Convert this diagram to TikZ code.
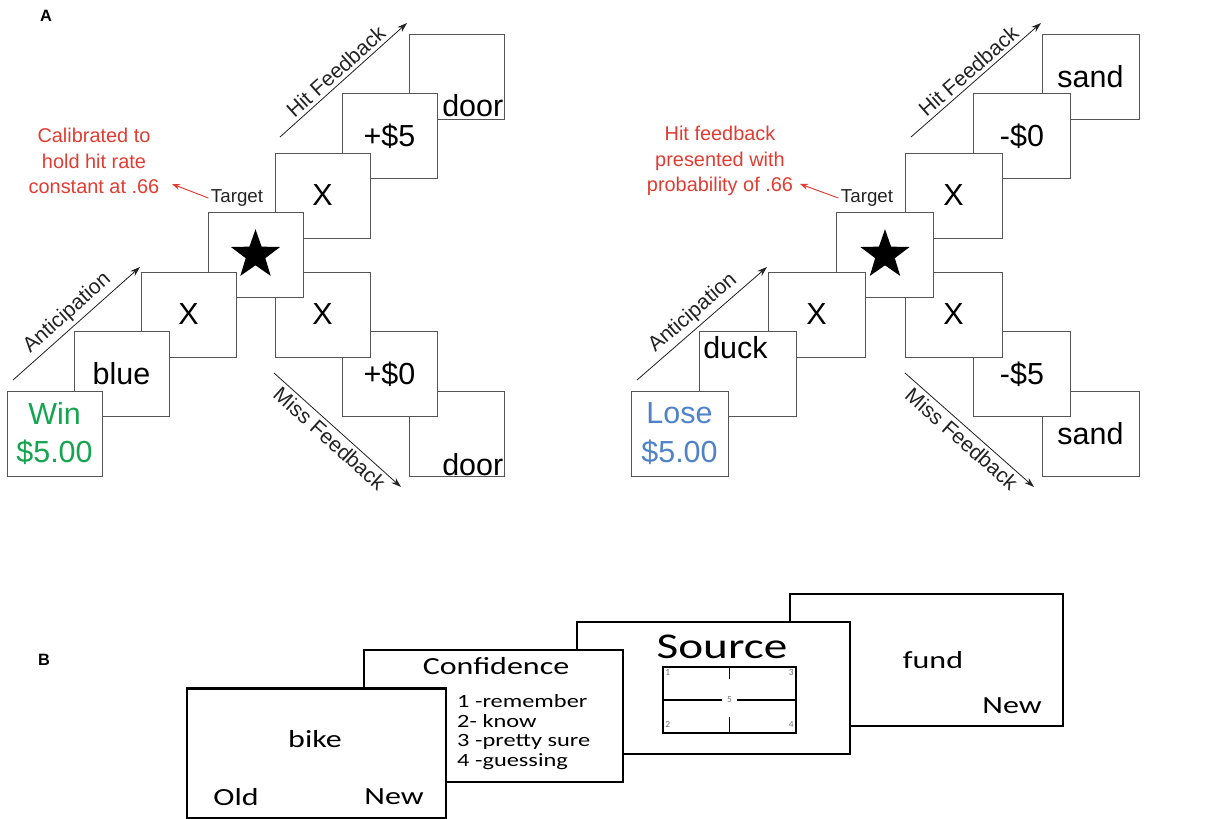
\documentclass[tikz,border=0pt]{standalone}
\usepackage{fontspec}
\setmainfont{Liberation Sans}
\newfontfamily\calib{Carlito}
\usepackage{graphicx}
\usetikzlibrary{arrows.meta,positioning,calc,shapes.geometric}
\definecolor{Ink}{RGB}{35,35,35}
\definecolor{BoxLine}{RGB}{85,85,85}
\definecolor{CueGreen}{RGB}{20,165,80}
\definecolor{CueBlue}{RGB}{80,130,200}
\definecolor{NoteRed}{RGB}{225,60,50}
\definecolor{GridGrey}{RGB}{115,115,115}
\newcommand{\wide}[1]{\scalebox{1.3}[1]{#1}}
\tikzset{
  slide/.style={draw=BoxLine, line width=0.8pt, fill=white, inner sep=0pt, text=black,
    minimum width=2.85cm, minimum height=2.55cm, align=center, font=\fontsize{26}{33}\selectfont},
  slideR/.style={slide, minimum width=2.91cm},
  corner/.style={inner sep=0pt, text=black, font=\fontsize{26}{30}\selectfont},
  tgtstar/.style={star, star points=5, star point ratio=2.5, fill=black, draw=none,
    minimum size=1.55cm, inner sep=0pt},
  phase/.style={font=\fontsize{18}{21}\selectfont, text=Ink, inner sep=3pt},
  tgtlab/.style={font=\fontsize{16}{19}\selectfont, text=Ink, inner sep=2pt},
  note/.style={align=center, font=\fontsize{17}{22}\selectfont, text=NoteRed, inner sep=0pt},
  flowarr/.style={-{Stealth[length=3mm,width=2mm]}, draw=Ink, line width=0.7pt},
  notearr/.style={-{Stealth[length=2.4mm,width=1.8mm]}, draw=NoteRed, line width=0.8pt},
  panlab/.style={font=\fontsize{14}{16}\selectfont\bfseries, inner sep=0pt},
  card/.style={draw=black, line width=1.8pt, fill=white, inner sep=0pt,
    minimum width=7.77cm, minimum height=3.96cm},
  cardW/.style={card, minimum width=8.19cm},
  bword/.style={font=\calib\fontsize{21}{25}\selectfont, inner sep=0pt},
  gridnum/.style={font=\calib\fontsize{8}{9}\selectfont, text=GridGrey, inner sep=1pt},
  gridline/.style={draw=black, line width=1.4pt},
}

\begin{document}
\begin{tikzpicture}[x=0.03cm, y=-0.03cm]
\useasboundingbox (0,0) rectangle (1225,819);

\node[panlab] (labA) at (46,16) {A};
\node[panlab] (labB) at (44,660) {B};

% ---------------- A, left: win trial (later slides drawn first) ----------------
\node[slide] (wordHitL) at (456.5,76.5) {};
\node[corner, anchor=base east] (doorHitL) at ($(wordHitL.south east)+(-1,-3)$) {door};
\node[slide] (fbHitL) at (389.5,136) {+\$5};
\node[slide] (fixHitL) at (322.5,195.5) {X};
\node[slide] (wordMissL) at (456.5,433.5) {};
\node[corner, anchor=base east] (doorMissL) at ($(wordMissL.south east)+(-1,-1)$) {door};
\node[slide] (fbMissL) at (389.5,374) {+\$0};
\node[slide] (fixMissL) at (322.5,314.5) {X};
\node[slide] (tgtL) at (255.5,255) {};
\node[tgtstar] (starL) at (tgtL.center) {};
\node[slide] (fixL) at (188.5,314.5) {X};
\node[slide] (wordL) at (121.5,374) {blue};
\node[slide, text=CueGreen] (cueL) at (54.5,433.5) {Win\\\$5.00};

% phase arrows
\coordinate (antSL) at (13,380);  \coordinate (antEL) at (140,267);
\coordinate (hitSL) at (280,137); \coordinate (hitEL) at (407,23);
\coordinate (misSL) at (274,373); \coordinate (misEL) at (401,487);
\draw[flowarr] (antSL) -- node[phase, sloped, above] (antLabL) {Anticipation} (antEL);
\draw[flowarr] (hitSL) -- node[phase, sloped, above] (hitLabL) {Hit Feedback} (hitEL);
\draw[flowarr] (misSL) -- node[phase, sloped, below] (misLabL) {Miss Feedback} (misEL);

% target label and calibration note
\node[tgtlab] (tgtLabL) at (237,198) {Target};
\node[note] (noteL) at (94,161) {Calibrated to\\hold hit rate\\constant at .66};
\coordinate (tipL) at (172,184);
\draw[notearr] (tgtLabL.west) -- (tipL);

% ---------------- A, right: lose trial ----------------
\node[slideR] (wordHitR) at (1090.5,76.5) {sand};
\node[slideR] (fbHitR) at (1022,136) {-\$0};
\node[slideR] (fixHitR) at (953.5,195.5) {X};
\node[slideR] (wordMissR) at (1090.5,433.5) {sand};
\node[slideR] (fbMissR) at (1022,374) {-\$5};
\node[slideR] (fixMissR) at (953.5,314.5) {X};
\node[slideR] (tgtR) at (885,255) {};
\node[tgtstar] (starR) at (tgtR.center) {};
\node[slideR] (fixR) at (816.5,314.5) {X};
\node[slideR] (wordR) at (748,374) {};
\node[corner, anchor=north west] (duckR) at ($(wordR.north west)+(4,5)$) {duck};
\node[slideR, text=CueBlue] (cueR) at (679.5,433.5) {Lose\\\$5.00};

\coordinate (antSR) at (637,380); \coordinate (antER) at (767,267);
\coordinate (hitSR) at (911,137); \coordinate (hitER) at (1041,23);
\coordinate (misSR) at (905,373); \coordinate (misER) at (1034,487);
\draw[flowarr] (antSR) -- node[phase, sloped, above] (antLabR) {Anticipation} (antER);
\draw[flowarr] (hitSR) -- node[phase, sloped, above] (hitLabR) {Hit Feedback} (hitER);
\draw[flowarr] (misSR) -- node[phase, sloped, below] (misLabR) {Miss Feedback} (misER);

\node[tgtlab] (tgtLabR) at (867,198) {Target};
\node[note] (noteR) at (720,161) {Hit feedback\\presented with\\probability of .66};
\coordinate (tipR) at (800,184);
\draw[notearr] (tgtLabR.west) -- (tipR);

% ---------------- B: memory test screens ----------------
\node[cardW] (fundC) at (926.5,660) {};
\node[bword] (fundW) at (933,660) {\wide{fund}};
\node[bword] (fundNew) at (1012,706) {\wide{New}};

\node[cardW] (srcC) at (713.5,688) {};
\node[bword, font=\calib\fontsize{31}{34}\selectfont] (srcT) at (722,647) {\wide{Source}};
\node[draw=black, line width=1.6pt, inner sep=0pt, minimum width=3.99cm, minimum height=1.98cm] (srcGrid) at (729.5,700) {};
\node[gridnum, minimum width=0.45cm, inner sep=0pt] (g5) at (srcGrid.center) {5};
\draw[gridline] (srcGrid.north) -- ++(0,13);
\draw[gridline] (srcGrid.south) -- ++(0,-17);
\draw[gridline] (srcGrid.west) -- (g5.west);
\draw[gridline] (g5.east) -- (srcGrid.east);
\node[gridnum, anchor=north west] (g1) at ($(srcGrid.north west)+(2,2)$) {1};
\node[gridnum, anchor=north east] (g3) at ($(srcGrid.north east)+(-2,2)$) {3};
\node[gridnum, anchor=south west] (g2) at ($(srcGrid.south west)+(2,-5)$) {2};
\node[gridnum, anchor=south east] (g4) at ($(srcGrid.south east)+(-2,-5)$) {4};

\node[card] (confC) at (493.5,716) {};
\node[bword] (confT) at (496,666) {\wide{Confidence}};
\node[bword, font=\calib\fontsize{16}{17}\selectfont, anchor=west] (confList) at (457,733)
  {\wide{\begin{tabular}{@{}l@{}}1 -remember\\2- know\\3 -pretty sure\\4 -guessing\end{tabular}}};

\node[card, minimum height=3.9cm] (bikeC) at (316.5,753.5) {};
\node[bword] (bikeW) at (315,739) {\wide{bike}};
\node[bword] (bikeOld) at (236,797) {\wide{Old}};
\node[bword] (bikeNew) at (394,797) {\wide{New}};

\end{tikzpicture}
\end{document}
